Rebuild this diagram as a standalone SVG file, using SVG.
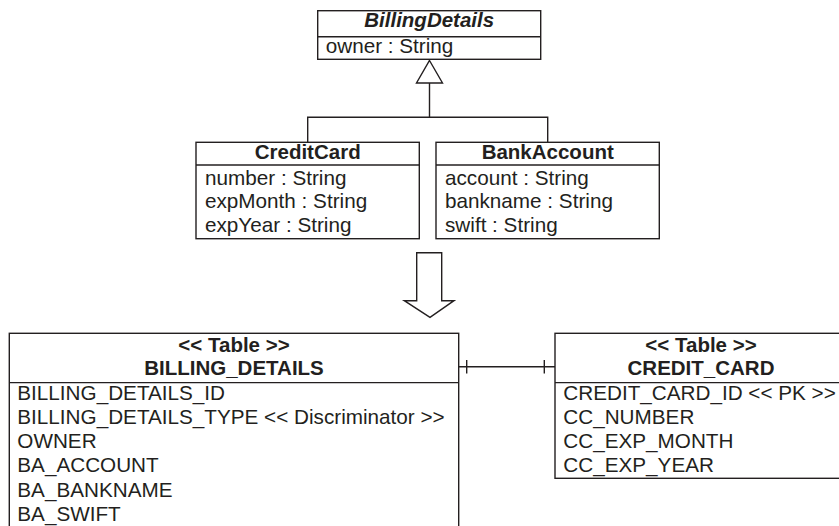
<svg xmlns="http://www.w3.org/2000/svg" width="839" height="526" viewBox="0 0 839 526">
<style>
.box{fill:#fff;stroke:#231f20;stroke-width:1.4}
.ln{fill:none;stroke:#231f20;stroke-width:1.4}
text{font-family:"Liberation Sans",Arial,Helvetica,sans-serif;font-size:20.7px;fill:#231f20}
.t{font-weight:bold;text-anchor:middle;font-size:20.5px}
.it{font-style:italic}
</style>
<rect width="839" height="526" fill="#fff"/>
<g id="connectors">
<path class="ln" d="M429.5,83 V117.3 M307.7,142.3 V117.3 H547.7 V142"/>
<polygon class="box" points="429.5,60.5 442.5,83 416.5,83"/>
<polygon class="box" stroke-width="1.1" points="416.7,252.7 441.7,252.7 441.7,300.7 454,300.7 430,317.3 404.3,300.7 416.7,300.7"/>
<path class="ln" d="M458.7,366.7 H555 M466.7,360 V373.4 M544.3,360 V373.4"/>
</g>
<g id="BillingDetails">
<rect class="box" x="317.7" y="10.7" width="223" height="48.6"/>
<path class="ln" d="M317.7,36.7 H540.7"/>
<text class="t it" x="429.2" y="27">BillingDetails</text>
<text x="325.7" y="53">owner : String</text>
</g>
<g id="CreditCard">
<rect class="box" x="196" y="142.3" width="223.3" height="96.4"/>
<path class="ln" d="M196,165 H419.3"/>
<text class="t" x="307.7" y="159.3">CreditCard</text>
<text x="205" y="185">number : String</text>
<text x="205" y="208.3">expMonth : String</text>
<text x="205" y="231.6">expYear : String</text>
</g>
<g id="BankAccount">
<rect class="box" x="436" y="142.3" width="223.3" height="96.4"/>
<path class="ln" d="M436,165 H659.3"/>
<text class="t" x="547.7" y="159.3">BankAccount</text>
<text x="445" y="185">account : String</text>
<text x="445" y="208.3">bankname : String</text>
<text x="445" y="231.6">swift : String</text>
</g>
<g id="BILLING_DETAILS">
<rect class="box" x="9.3" y="333.3" width="449.4" height="210"/>
<path class="ln" d="M9.3,382.6 H458.7"/>
<text class="t" x="234" y="351.7">&lt;&lt; Table &gt;&gt;</text>
<text class="t" x="234" y="375">BILLING_DETAILS</text>
<text x="17.3" y="399.5">BILLING_DETAILS_ID</text>
<text x="17.3" y="423.8">BILLING_DETAILS_TYPE &lt;&lt; Discriminator &gt;&gt;</text>
<text x="17.3" y="448.1">OWNER</text>
<text x="17.3" y="472.4">BA_ACCOUNT</text>
<text x="17.3" y="496.7">BA_BANKNAME</text>
<text x="17.3" y="521">BA_SWIFT</text>
</g>
<g id="CREDIT_CARD">
<rect class="box" x="555" y="333.3" width="292" height="145"/>
<path class="ln" d="M555,382.6 H847"/>
<text class="t" x="701" y="351.7">&lt;&lt; Table &gt;&gt;</text>
<text class="t" x="701" y="375">CREDIT_CARD</text>
<text x="563.3" y="399.5">CREDIT_CARD_ID &lt;&lt; PK &gt;&gt;</text>
<text x="563.3" y="423.8">CC_NUMBER</text>
<text x="563.3" y="448.1">CC_EXP_MONTH</text>
<text x="563.3" y="472.4">CC_EXP_YEAR</text>
</g>
</svg>
